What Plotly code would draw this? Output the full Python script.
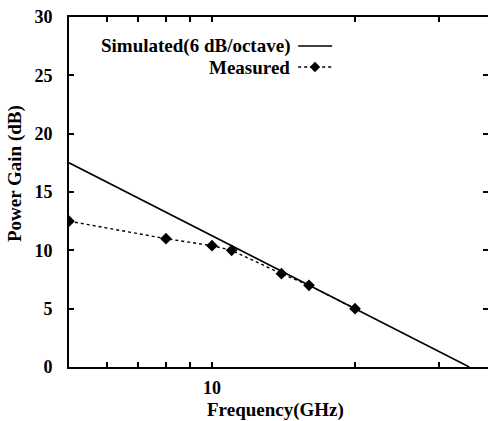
import math
import plotly.graph_objects as go

# Simulated response: straight line on a log-frequency axis (endpoints)
sim_freq = [5.0, 34.8]
sim_gain = [17.5, 0.0]

# Measured power gain
meas_freq = [5.0, 8.0, 10.0, 11.0, 14.0, 16.0, 20.0]
meas_gain = [12.5, 11.0, 10.4, 10.0, 8.0, 7.0, 5.0]

x_tick_vals = [6, 7, 8, 9, 10, 20, 30]
x_tick_text = ["", "", "", "", "10", "", ""]
y_tick_vals = [0, 5, 10, 15, 20, 25, 30]

FONT = "Liberation Serif"
BLACK = "#000000"

fig = go.Figure()

fig.add_trace(go.Scatter(
    x=sim_freq, y=sim_gain, mode="lines",
    line=dict(color=BLACK, width=1.6),
    showlegend=False,
))
fig.add_trace(go.Scatter(
    x=meas_freq, y=meas_gain, mode="lines+markers",
    line=dict(color=BLACK, width=1.4, dash="3px,3px"),
    marker=dict(symbol="diamond", size=9, color=BLACK),
    showlegend=False,
))

# Legend keys drawn on a hidden overlay axis (0..1 in both directions)
fig.add_trace(go.Scatter(
    x=[0.547, 0.628], y=[0.917, 0.917], mode="lines",
    line=dict(color=BLACK, width=1.4),
    xaxis="x2", yaxis="y2", showlegend=False, hoverinfo="skip",
))
fig.add_trace(go.Scatter(
    x=[0.547, 0.628], y=[0.857, 0.857], mode="lines",
    line=dict(color=BLACK, width=1.4, dash="3px,3px"),
    xaxis="x2", yaxis="y2", showlegend=False, hoverinfo="skip",
))
fig.add_trace(go.Scatter(
    x=[0.587], y=[0.857], mode="markers",
    marker=dict(symbol="diamond", size=8, color=BLACK),
    xaxis="x2", yaxis="y2", showlegend=False, hoverinfo="skip",
))
# invisible trace that carries the right-hand tick axis
fig.add_trace(go.Scatter(
    x=[], y=[], xaxis="x", yaxis="y3", showlegend=False, hoverinfo="skip",
))

label_font = dict(family=FONT, size=19, color=BLACK, weight="bold")
tick_font = dict(family=FONT, size=18, color=BLACK, weight="bold")

fig.update_layout(
    width=488, height=421,
    margin=dict(l=69, r=0, t=17, b=54),
    paper_bgcolor="white", plot_bgcolor="white",
    showlegend=False,
    xaxis=dict(
        type="log",
        range=[math.log10(5.0), math.log10(38.1)],
        tickvals=x_tick_vals, ticktext=x_tick_text,
        ticks="inside", ticklen=5, tickwidth=1.5, tickcolor=BLACK,
        showline=True, linecolor=BLACK, linewidth=2, mirror="ticks",
        showgrid=False, zeroline=False,
        tickfont=tick_font, ticklabelstandoff=3,
    ),
    yaxis=dict(
        range=[0, 30],
        tickvals=y_tick_vals,
        ticks="inside", ticklen=5, tickwidth=1.5, tickcolor=BLACK,
        showline=True, linecolor=BLACK, linewidth=2,
        showgrid=False, zeroline=False,
        tickfont=tick_font, ticklabelstandoff=11,
    ),
    yaxis3=dict(
        range=[0, 30], overlaying="y", side="right",
        tickvals=y_tick_vals, showticklabels=False,
        ticks="inside", ticklen=5, tickwidth=1.5, tickcolor=BLACK,
        showline=False, showgrid=False, zeroline=False, fixedrange=True,
    ),
    xaxis2=dict(range=[0, 1], overlaying="x", visible=False, fixedrange=True),
    yaxis2=dict(range=[0, 1], overlaying="y", visible=False, fixedrange=True),
    annotations=[
        dict(text="Simulated(6 dB/octave)", xref="paper", yref="paper",
             x=0.532, y=0.917, xanchor="right", yanchor="middle",
             showarrow=False, font=label_font),
        dict(text="Measured", xref="paper", yref="paper",
             x=0.532, y=0.857, xanchor="right", yanchor="middle",
             showarrow=False, font=label_font),
        dict(text="Frequency(GHz)", xref="paper", yref="paper",
             x=0.492, y=-0.123, xanchor="center", yanchor="middle",
             showarrow=False, font=label_font),
        dict(text="Power Gain (dB)", xref="paper", yref="paper",
             x=-0.129, y=0.554, xanchor="center", yanchor="middle",
             textangle=-90, showarrow=False, font=label_font),
    ],
)

fig.write_html("out.html")
